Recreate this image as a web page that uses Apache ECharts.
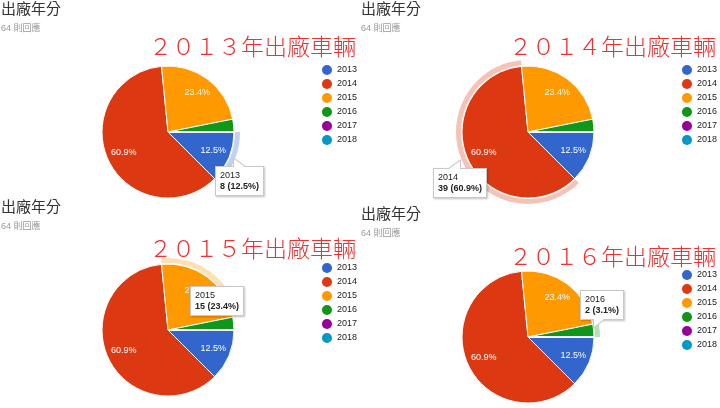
<!DOCTYPE html>
<html>
<head>
<meta charset="utf-8">
<title>出廠年分</title>
<script src="https://cdn.jsdelivr.net/npm/echarts@6/dist/echarts.min.js"></script>
<style>
    html, body { margin: 0; padding: 0; background: #fff; }
    #wrap { position: relative; width: 720px; height: 408px; overflow: hidden; }
    .panel { position: absolute; width: 360px; height: 204px; }
    /* tooltip 小尖角 */
    .tip-tl::before, .tip-tl::after, .tip-tr::before, .tip-tr::after,
    .tip-bl::before, .tip-bl::after { content: ''; position: absolute; width: 0; height: 0; border-style: solid; }
    .tip-tl::before { left: 17px; top: -10px; border-width: 0 14px 10px 0; border-color: transparent transparent #c8c8c8 transparent; }
    .tip-tl::after { left: 18px; top: -8px; border-width: 0 11px 8px 0; border-color: transparent transparent #fff transparent; }
    .tip-tr::before { left: 13px; top: -10px; border-width: 0 0 10px 14px; border-color: transparent transparent #c8c8c8 transparent; }
    .tip-tr::after { left: 15px; top: -8px; border-width: 0 0 8px 11px; border-color: transparent transparent #fff transparent; }
    .tip-bl::before { left: 12px; bottom: -10px; border-width: 10px 13px 0 0; border-color: #c8c8c8 transparent transparent transparent; }
    .tip-bl::after { left: 13px; bottom: -8px; border-width: 8px 10px 0 0; border-color: #fff transparent transparent transparent; }
</style>
</head>
<body>
<div id="wrap">
    <div class="panel" id="p2013" style="left:0;top:0"></div>
    <div class="panel" id="p2014" style="left:360px;top:0"></div>
    <div class="panel" id="p2015" style="left:0;top:198px"></div>
    <div class="panel" id="p2016" style="left:360px;top:205px"></div>
</div>
<script>
// 資料
var years = ['2013', '2014', '2015', '2016', '2017', '2018'];
var counts = [8, 39, 15, 2, 0, 0];
var chartTitle = '出廠年分';
var responseText = '64 則回應';
var focusYears = ['2013', '2014', '2015', '2016'];
var headlines = ['２０１３年出廠車輛', '２０１４年出廠車輛', '２０１５年出廠車輛', '２０１６年出廠車輛'];

var palette = ['#3366cc', '#dc3912', '#ff9900', '#109618', '#990099', '#0099c6'];
var latinFont = "'Liberation Sans', Arial, 'Noto Sans CJK TC', sans-serif";
var cjkFont = "'Noto Sans CJK TC', 'Liberation Sans', sans-serif";

// 各面板位置（tooltip 位置、尖角樣式、紅字上緣）
var panelLayout = [
    {id: 'p2013', tip: [215, 166], tipClass: 'tip-tl', headTop: 35},
    {id: 'p2014', tip: [73, 168], tipClass: 'tip-tr', headTop: 35},
    {id: 'p2015', tip: [190, 88], tipClass: '', headTop: 39},
    {id: 'p2016', tip: [220, 85], tipClass: 'tip-bl', headTop: 40}
];

$ready(function () {
    for (var i = 0; i < focusYears.length; i++) {
        renderPanel(panelLayout[i], focusYears[i], headlines[i]);
    }
});

function $ready(fn) {
    if (document.readyState !== 'loading') {
        fn();
    } else {
        document.addEventListener('DOMContentLoaded', fn);
    }
}

function hexToRgba(hex, a) {
    var r = parseInt(hex.substr(1, 2), 16);
    var g = parseInt(hex.substr(3, 2), 16);
    var b = parseInt(hex.substr(5, 2), 16);
    return 'rgba(' + r + ',' + g + ',' + b + ',' + a + ')';
}

/**
 * 百分比，保留一位小數
 */
function pct(value, total) {
    return total <= 0 ? '0.0' : (value / total * 100).toFixed(1);
}

/**
 * 畫一個面板
 * @param layout
 * @param focusYear
 * @param headline
 */
function renderPanel(layout, focusYear, headline) {
    var chart = echarts.init(document.getElementById(layout.id), null, {renderer: 'canvas'});
    var total = 0;
    for (var k = 0; k < counts.length; k++) {
        total += counts[k];
    }
    var focusIndex = years.indexOf(focusYear);

    var pieData = [], labelData = [], ringData = [];
    for (var i = 0; i < years.length; i++) {
        pieData.push({name: years[i], value: counts[i], itemStyle: {color: palette[i]}});
        labelData.push({
            name: years[i],
            value: counts[i],
            label: {show: counts[i] / total >= 0.05}
        });
        ringData.push({
            name: years[i],
            value: counts[i],
            itemStyle: {color: i === focusIndex ? hexToRgba(palette[i], 0.3) : 'rgba(0,0,0,0)'}
        });
    }

    var center = [168, 132];
    var option = {
        animation: false,
        color: palette,
        title: [
            {
                text: chartTitle, left: 1, top: 1, padding: 0,
                textStyle: {fontFamily: cjkFont, fontSize: 15, fontWeight: 'normal', color: '#333'}
            },
            {
                text: responseText, left: 1, top: 24, padding: 0,
                textStyle: {fontFamily: latinFont, fontSize: 9, fontWeight: 'normal', color: '#999'}
            },
            {
                text: headline, right: 4, top: layout.headTop, padding: 0,
                textStyle: {fontFamily: cjkFont, fontSize: 23, fontWeight: 300, color: '#f23030'}
            }
        ],
        tooltip: {
            trigger: 'item',
            triggerOn: 'none',
            alwaysShowContent: true,
            transitionDuration: 0,
            position: layout.tip,
            className: layout.tipClass,
            backgroundColor: '#fff',
            borderColor: '#c8c8c8',
            borderWidth: 1,
            padding: [3, 4],
            textStyle: {fontFamily: latinFont, fontSize: 9, color: '#222', lineHeight: 11},
            extraCssText: 'border-radius:0;box-shadow:1px 1px 2px rgba(0,0,0,0.25);',
            formatter: function (p) {
                return p.name + '<br/><b>' + p.value + ' (' + pct(p.value, total) + '%)</b>';
            }
        },
        legend: {
            orient: 'vertical',
            right: 3,
            top: 65,
            padding: 0,
            icon: 'circle',
            itemWidth: 10,
            itemHeight: 10,
            itemGap: 4,
            itemStyle: {borderWidth: 0},
            selectedMode: false,
            textStyle: {fontFamily: latinFont, fontSize: 9, color: '#222'},
            data: years
        },
        series: [
            {
                name: '出廠年分',
                type: 'pie',
                center: center,
                radius: [0, 66],
                startAngle: 0,
                clockwise: true,
                avoidLabelOverlap: false,
                label: {show: false},
                labelLine: {show: false},
                itemStyle: {borderColor: '#fff', borderWidth: 1},
                emphasis: {disabled: true},
                data: pieData
            },
            {
                type: 'pie',
                silent: true,
                center: center,
                radius: [26, 66],
                startAngle: 0,
                clockwise: true,
                tooltip: {show: false},
                itemStyle: {color: 'rgba(0,0,0,0)', borderWidth: 0},
                label: {
                    position: 'inside',
                    formatter: function (p) {
                        return pct(p.value, total) + '%';
                    },
                    color: '#fff',
                    fontFamily: latinFont,
                    fontSize: 9
                },
                labelLine: {show: false},
                emphasis: {disabled: true},
                data: labelData
            },
            {
                type: 'pie',
                silent: true,
                center: center,
                radius: [67, 72],
                startAngle: 0,
                clockwise: true,
                tooltip: {show: false},
                label: {show: false},
                labelLine: {show: false},
                itemStyle: {borderWidth: 0},
                emphasis: {disabled: true},
                data: ringData
            }
        ]
    };
    chart.setOption(option);
    chart.dispatchAction({type: 'showTip', seriesIndex: 0, dataIndex: focusIndex});
}
</script>
</body>
</html>
